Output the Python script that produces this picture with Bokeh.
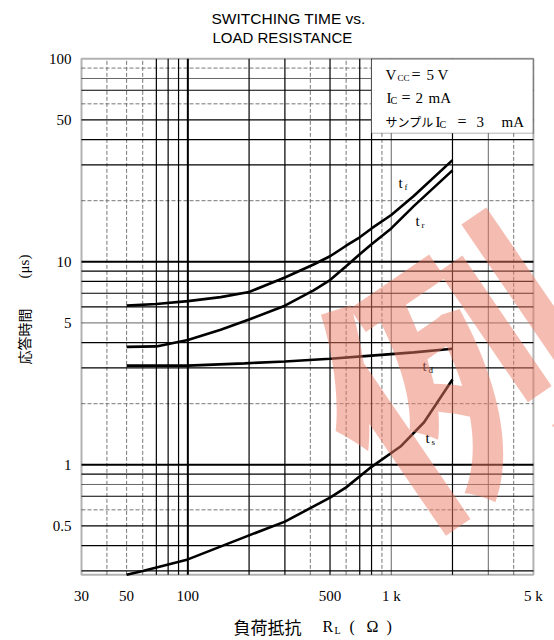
from bokeh.plotting import figure
from bokeh.models import Range1d, FixedTicker, Label, BoxAnnotation
from bokeh.embed import file_html
from bokeh.resources import INLINE
import math

# ---- data ----
r_tf = [50, 70, 100, 145, 200, 300, 415, 500, 600, 700, 800, 1000, 1290, 2000]
t_f = [6.08, 6.2, 6.4, 6.7, 7.1, 8.37, 9.7, 10.65, 12.0, 13.2, 14.6, 17.0, 21.1, 31.7]

r_tr = [50, 70, 100, 145, 200, 300, 415, 500, 600, 700, 800, 1000, 1290, 2000]
t_r = [3.81, 3.83, 4.12, 4.63, 5.2, 6.08, 7.24, 8.13, 9.5, 10.9, 12.2, 14.6, 18.8, 28.2]

r_td = [50, 100, 190, 300, 500, 800, 1290, 2000]
t_d = [3.08, 3.08, 3.16, 3.23, 3.33, 3.45, 3.58, 3.73]

r_ts = [50, 60, 100, 200, 300, 500, 600, 800, 1110, 1450, 2000]
t_s = [0.287, 0.30, 0.342, 0.449, 0.525, 0.689, 0.774, 0.977, 1.23, 1.62, 2.63]

x_ticks = [30, 50, 100, 500, 1000, 5000]
x_tick_labels = ["30", "50", "100", "500", "1 k", "5 k"]
y_ticks = [0.5, 1, 5, 10, 50, 100]
y_tick_labels = ["0.5", "1", "5", "10", "50", "100"]

X_MIN, X_MAX = 30, 5000
Y_MIN, Y_MAX = 0.287, 100

x_grid_thick = [100]
x_grid_black = [70, 80, 90, 200, 300, 500, 700, 800, 2000]
x_grid_gray = [1000, 3000]
x_grid_dash = [40, 50, 60, 400, 600, 900, 4000]
y_grid_thick = [10, 1]
y_grid_black = [70, 50, 40, 30, 9, 8, 7, 6, 4, 3, 0.9, 0.7, 0.5, 0.4, 0.3]
y_grid_gray = [80, 5, 0.8]
y_grid_dash = [90, 60, 20, 2, 0.6]

SERIF = "Liberation Serif"
CJK = "Noto Sans CJK JP"

W, H = 554, 640
# pixel calibration of the chart area (left/top edges and px per decade)
PX_LEFT, PX_TOP, PX_DEC_X, PX_DEC_Y = 81.0, 58.3, 203.4, 203.0

def dx(px):
    return X_MIN * 10 ** ((px - PX_LEFT) / PX_DEC_X)

def dy(py):
    return Y_MAX / 10 ** ((py - PX_TOP) / PX_DEC_Y)

p = figure(x_axis_type="log", y_axis_type="log",
           x_range=Range1d(dx(0), dx(W)), y_range=Range1d(dy(H), dy(0)),
           width=W, height=H, output_backend="svg", toolbar_location=None,
           min_border_left=0, min_border_right=0, min_border_top=0, min_border_bottom=0)
p.background_fill_color = "white"
p.border_fill_color = "white"
p.outline_line_color = None
p.grid.visible = False

p.xaxis.ticker = FixedTicker(ticks=x_ticks)
p.xaxis.major_label_overrides = {t: l for t, l in zip(x_ticks, x_tick_labels)}
p.yaxis.ticker = FixedTicker(ticks=y_ticks)
p.yaxis.major_label_overrides = {t: l for t, l in zip(y_ticks, y_tick_labels)}
p.xaxis.fixed_location = Y_MIN
p.yaxis.fixed_location = X_MIN
for ax in (p.xaxis, p.yaxis):
    ax.axis_line_color = None
    ax.major_tick_line_color = None
    ax.minor_tick_line_color = None
    ax.major_label_text_font = SERIF
    ax.major_label_text_font_size = "15px"
    ax.major_label_text_color = "black"
p.xaxis.major_label_standoff = 7
p.yaxis.major_label_standoff = 4

def vgrid(xs, color, width, dash="solid"):
    n = len(xs)
    p.segment(x0=xs, y0=[Y_MIN] * n, x1=xs, y1=[Y_MAX] * n,
              line_color=color, line_width=width, line_dash=dash)

def hgrid(ys, color, width, dash="solid"):
    n = len(ys)
    p.segment(x0=[X_MIN] * n, y0=ys, x1=[X_MAX] * n, y1=ys,
              line_color=color, line_width=width, line_dash=dash)

vgrid(x_grid_dash, "#777777", 1, "4 2")
hgrid(y_grid_dash, "#777777", 1, "4 2")
vgrid(x_grid_gray, "#666666", 1)
hgrid(y_grid_gray, "#666666", 1)
vgrid(x_grid_black, "black", 1.2)
hgrid(y_grid_black, "black", 1.2)
vgrid(x_grid_thick, "black", 2)
hgrid(y_grid_thick, "black", 2)

# curves
for xs, ys in ((r_tf, t_f), (r_tr, t_r), (r_td, t_d), (r_ts, t_s)):
    p.line(xs, ys, line_color="black", line_width=2.6)

# conditions box
p.add_layout(BoxAnnotation(left=800, right=X_MAX, bottom=43, top=Y_MAX, fill_color="white",
                           fill_alpha=1, line_color="black", line_width=1))
# chart border
p.add_layout(BoxAnnotation(left=X_MIN, right=X_MAX, bottom=Y_MIN, top=Y_MAX,
                           fill_alpha=0, line_color="black", line_width=2))

def lab(px, py, text, font=SERIF, size="15px", align="left", baseline="middle",
        angle=0, color="black", style="normal", alpha=1.0):
    p.add_layout(Label(x=dx(px), y=dy(py), text=text, text_font=font, text_font_size=size,
                       text_align=align, text_baseline=baseline,
                       angle=angle, text_color=color, text_font_style=style, text_alpha=alpha))

# condition texts (px positions)
lab(385, 74, "V")
lab(397, 77, "CC", size="9px")
lab(411, 74, "=", size="16px")
lab(426, 74, "5")
lab(437, 74, "V")
lab(386, 97, "I")
lab(390, 100, "C", size="10px")
lab(401, 97, "=", size="16px")
lab(415, 97, "2")
lab(428, 97, "mA")
lab(385, 121, "サンプル", font=CJK, size="12px")
lab(435, 121, "I")
lab(439, 124, "C", size="10px")
lab(457, 121, "=", size="16px")
lab(476, 121, "3")
lab(501, 121, "mA")

# curve labels
for (px, py, sub) in ((398, 182, "f"), (415, 220, "r"), (422, 365, "d"), (425, 437, "s")):
    lab(px, py, "t")
    lab(px + 6, py + 4, sub, size="9px")

# title
lab(211, 18, "SWITCHING TIME vs.", font="Liberation Sans", size="15.5px")
lab(212, 37, "LOAD RESISTANCE", font="Liberation Sans", size="15px")

# axis titles
lab(23, 336, "応答時間", font=CJK, size="14px", align="center", angle=math.pi / 2)
lab(23, 266, "(μs)", font=SERIF, size="15px", align="center", angle=math.pi / 2)
lab(233, 626, "負荷抵抗", font=CJK, size="17px")
lab(322, 626, "R", size="16px")
lab(334, 630, "L", size="10px")
lab(349, 626, "(", size="16px")
lab(366, 626, "Ω", size="16px")
lab(386, 626, ")", size="16px")

# watermark (stamp over the chart, running off the right edge as in the reference)
lab(448, 362, "例", font=CJK, size="270px", align="center", angle=0.6,
    color="#ec7c66", style="bold", alpha=0.5)

open("out.html", "w").write(file_html(p, INLINE))
